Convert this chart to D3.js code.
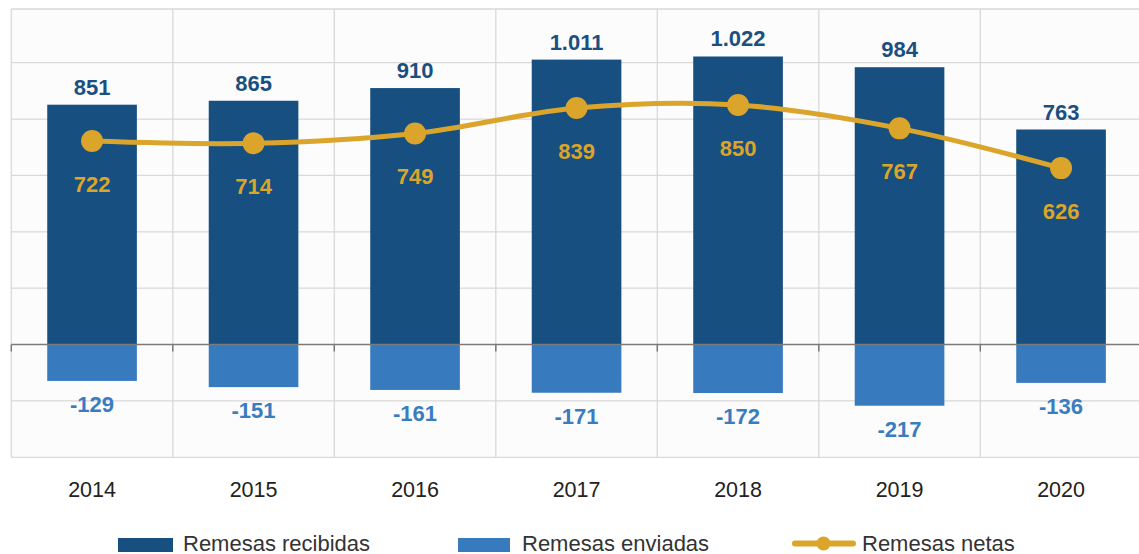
<!DOCTYPE html>
<html>
<head>
<meta charset="utf-8">
<script src="https://cdn.jsdelivr.net/npm/d3@7"></script>
<style>
html,body{margin:0;padding:0;background:#fff;}
svg{display:block;font-family:"Liberation Sans",Arial,sans-serif;}
</style>
</head>
<body>
<svg id="chart" width="1139" height="554"></svg>
<script>
const years = ["2014","2015","2016","2017","2018","2019","2020"];
const recibidas = [851, 865, 910, 1011, 1022, 984, 763];
const enviadas = [-129, -151, -161, -171, -172, -217, -136];
const netas = [722, 714, 749, 839, 850, 767, 626];
const recibidasLabels = ["851","865","910","1.011","1.022","984","763"];
const enviadasLabels = ["-129","-151","-161","-171","-172","-217","-136"];
const netasLabels = ["722","714","749","839","850","767","626"];
const yTicks = [-400, -200, 0, 200, 400, 600, 800, 1000];
const legendNames = ["Remesas recibidas", "Remesas enviadas", "Remesas netas"];

(function () {
const C_DARK = "#164f80", C_LIGHT = "#377abe", C_GOLD = "#daa52a";

const svg = d3.select("#chart");
const pLeft = 11.3, pRight = 1141.8, pTop = 9, pBottom = 457.3;

const x = d3.scaleBand().domain(years).range([pLeft, pRight]).padding(0);
const y = d3.scaleLinear().domain([-400, 1000]).range([pBottom, 62.7]);
const bw = x.bandwidth() * 0.555;
const cx = d => x(d) + x.bandwidth() / 2;

svg.append("rect").attr("x", pLeft).attr("y", pTop).attr("width", pRight - pLeft).attr("height", pBottom - pTop)
  .attr("fill", "#fcfcfc");

svg.append("g").selectAll("line").data(yTicks.filter(t => t !== 0)).join("line")
  .attr("x1", pLeft).attr("x2", pRight).attr("y1", d => y(d)).attr("y2", d => y(d))
  .attr("stroke", "#d9d9d9").attr("stroke-width", 1.3);
svg.append("line").attr("x1", pLeft).attr("x2", pRight).attr("y1", pTop).attr("y2", pTop)
  .attr("stroke", "#d9d9d9").attr("stroke-width", 1.3);

svg.append("g").selectAll("line").data(years).join("line")
  .attr("x1", d => x(d)).attr("x2", d => x(d)).attr("y1", pTop).attr("y2", pBottom)
  .attr("stroke", "#d9d9d9").attr("stroke-width", 1.3);

svg.append("g").selectAll("rect").data(years).join("rect")
  .attr("x", d => cx(d) - bw / 2).attr("width", bw)
  .attr("y", (d, i) => y(recibidas[i])).attr("height", (d, i) => y(0) - y(recibidas[i]))
  .attr("fill", C_DARK);
svg.append("g").selectAll("rect").data(years).join("rect")
  .attr("x", d => cx(d) - bw / 2).attr("width", bw)
  .attr("y", y(0)).attr("height", (d, i) => y(enviadas[i]) - y(0))
  .attr("fill", C_LIGHT);

svg.append("line").attr("x1", pLeft).attr("x2", pRight).attr("y1", y(0)).attr("y2", y(0))
  .attr("stroke", "#7a7a7a").attr("stroke-width", 1.5);
svg.append("g").selectAll("line").data(years).join("line")
  .attr("x1", d => x(d)).attr("x2", d => x(d)).attr("y1", y(0)).attr("y2", y(0) + 7)
  .attr("stroke", "#7a7a7a").attr("stroke-width", 1.5);

const line = d3.line().x((d, i) => cx(years[i])).y(d => y(d)).curve(d3.curveCardinal.tension(0));
svg.append("path").datum(netas).attr("d", line).attr("fill", "none")
  .attr("stroke", C_GOLD).attr("stroke-width", 5);
svg.append("g").selectAll("circle").data(netas).join("circle")
  .attr("cx", (d, i) => cx(years[i])).attr("cy", d => y(d)).attr("r", 11).attr("fill", C_GOLD);

svg.append("g").selectAll("text").data(recibidas).join("text")
  .attr("x", (d, i) => cx(years[i])).attr("y", d => y(d) - 10)
  .attr("text-anchor", "middle").attr("font-size", 22).attr("font-weight", "bold")
  .attr("fill", "#1b4f7f").text((d, i) => recibidasLabels[i]);
svg.append("g").selectAll("text").data(enviadas).join("text")
  .attr("x", (d, i) => cx(years[i])).attr("y", d => y(d) + 31)
  .attr("text-anchor", "middle").attr("font-size", 22).attr("font-weight", "bold")
  .attr("fill", "#3a7cc0").text((d, i) => enviadasLabels[i]);
svg.append("g").selectAll("text").data(netas).join("text")
  .attr("x", (d, i) => cx(years[i])).attr("y", d => y(d) + 51)
  .attr("text-anchor", "middle").attr("font-size", 22).attr("font-weight", "bold")
  .attr("fill", C_GOLD).text((d, i) => netasLabels[i]);

svg.append("g").selectAll("text").data(years).join("text")
  .attr("x", d => cx(d)).attr("y", 497)
  .attr("text-anchor", "middle").attr("font-size", 21.5)
  .attr("fill", "#222").text(d => d);

const lg = svg.append("g");
lg.append("rect").attr("x", 118).attr("y", 538).attr("width", 55).attr("height", 14).attr("fill", C_DARK);
lg.append("text").attr("x", 183).attr("y", 550.5).attr("font-size", 22).attr("fill", "#333").text(legendNames[0]);
lg.append("rect").attr("x", 458).attr("y", 538).attr("width", 52).attr("height", 14).attr("fill", C_LIGHT);
lg.append("text").attr("x", 522).attr("y", 550.5).attr("font-size", 22).attr("fill", "#333").text(legendNames[1]);
lg.append("line").attr("x1", 795).attr("x2", 853).attr("y1", 543.5).attr("y2", 543.5)
  .attr("stroke", C_GOLD).attr("stroke-width", 6).attr("stroke-linecap", "round");
lg.append("circle").attr("cx", 823.5).attr("cy", 543.5).attr("r", 7).attr("fill", C_GOLD);
lg.append("text").attr("x", 862).attr("y", 550.5).attr("font-size", 22).attr("fill", "#333").text(legendNames[2]);
})();
</script>
</body>
</html>
